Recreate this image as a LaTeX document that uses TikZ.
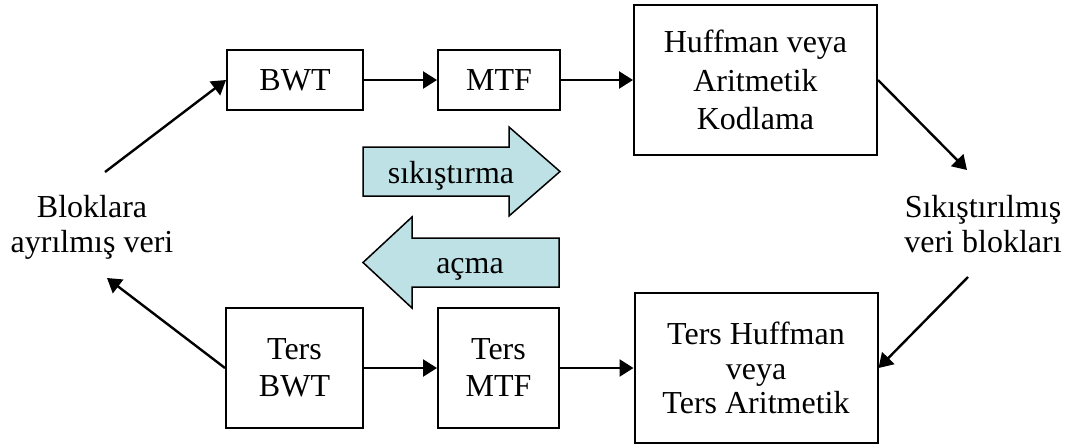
\documentclass[tikz,border=0pt]{standalone}
\usepackage{fontspec}
\setmainfont{Liberation Serif}
\usetikzlibrary{arrows.meta}
\definecolor{arrowblue}{RGB}{189,225,228}

\begin{document}
\begin{tikzpicture}[x=0.5pt, y=-0.5pt,
  box/.style={draw, line width=1pt, align=center, font=\fontsize{16pt}{17.5pt}\selectfont},
  lbl/.style={align=center, font=\fontsize{16pt}{17.5pt}\selectfont},
  link/.style={-{Triangle[length=7pt,width=8.5pt]}, line width=1.2pt},
  bigarrow/.style={draw, fill=arrowblue, line width=0.75pt, line join=miter}]
\useasboundingbox (0,0) rectangle (1080,446);

% sikistirma satiri
\node [box, minimum width=68pt, minimum height=30pt] (bwt) at (295,80) {BWT};
\node [box, minimum width=61pt, minimum height=30pt] (mtf) at (499,80) {MTF};
\node [box, minimum width=121.5pt, minimum height=75pt, font=\fontsize{16pt}{19.25pt}\selectfont] (huf) at (755.5,80) {Huffman veya\\Aritmetik\\Kodlama};

% acma satiri
\node [box, minimum width=68.5pt, minimum height=60pt, font=\fontsize{16pt}{18.5pt}\selectfont] (tbwt) at (294.5,368) {Ters\\BWT};
\node [box, minimum width=60.5pt, minimum height=60pt, font=\fontsize{16pt}{18.5pt}\selectfont] (tmtf) at (498.5,368) {Ters\\MTF};
\node [box, minimum width=121.5pt, minimum height=75pt, font=\fontsize{16pt}{17.25pt}\selectfont] (thuf) at (756,368) {Ters Huffman\\veya\\Ters Aritmetik};

% veri etiketleri
\node [lbl] (blok) at (92,227) {Bloklara\\ayrılmış veri};
\node [lbl] (sikveri) at (983,224) {Sıkıştırılmış\\veri blokları};

\coordinate (b1) at (105,172);
\coordinate (b2) at (107,278);
\coordinate (c1) at (967,170);
\coordinate (c2) at (968,277);

\draw [link] (b1) -- (bwt.west);
\draw [link] (bwt.east) -- (mtf.west);
\draw [link] (mtf.east) -- (huf.west);
\draw [link] (huf.east) -- (c1);
\draw [link] (c2) -- (thuf.east);
\draw [link] (tbwt.east) -- (tmtf.west);
\draw [link] (tmtf.east) -- (thuf.west);
\draw [link] (tbwt.west) -- (b2);

% blok oklar
\draw [bigarrow] (363,147) -- (509,147) -- (509,127) -- (560,171.5) -- (509,216) -- (509,196) -- (363,196) -- cycle;
\draw [bigarrow] (559,238) -- (412,238) -- (412,217) -- (363,262.5) -- (412,308) -- (412,287) -- (559,287) -- cycle;
\node [lbl, anchor=base] (sik) at (451,183) {sıkıştırma};
\node [lbl, anchor=base] (acma) at (470,273) {açma};
\end{tikzpicture}
\end{document}
